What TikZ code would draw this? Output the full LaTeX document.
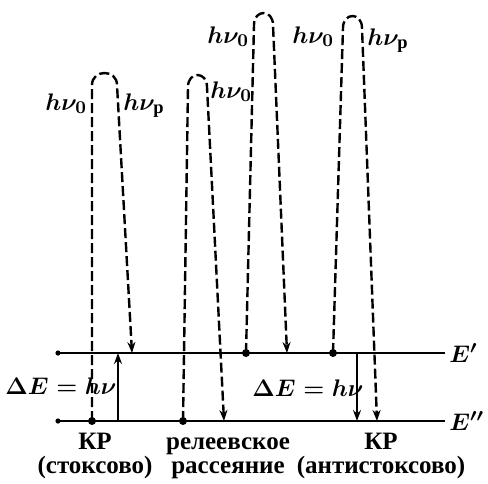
\documentclass[tikz,border=0pt]{standalone}
\usepackage{amsmath}
\usepackage{fontspec}
\setmainfont{Liberation Serif}
\usetikzlibrary{arrows.meta}
\begin{document}
\begin{tikzpicture}[x=0.5pt,y=-0.5pt,
  level/.style={line width=1.4pt},
  leg/.style={line width=1.2pt, dash pattern=on 5pt off 2pt, -{Stealth[length=5.5pt,width=4pt]}},
  solidarrow/.style={line width=1.1pt, -{Stealth[length=5.5pt,width=4pt]}},
  bigdot/.style={circle, fill, inner sep=0pt, minimum size=4pt},
  enddot/.style={circle, fill, inner sep=0pt, minimum size=2.6pt},
  lab/.style={inner sep=0pt, anchor=base west, font=\fontsize{13.2}{16}\selectfont\boldmath},
  txt/.style={inner sep=0pt, anchor=base, font=\fontsize{12.5}{14}\selectfont\bfseries}]
\useasboundingbox (0,0) rectangle (488,483);
% levels
\node[enddot] (u0) at (58,353) {};
\coordinate (u1) at (445,353);
\node[enddot] (l0) at (58,421) {};
\coordinate (l1) at (445,421);
\draw[level] (u0.center) -- (u1);
\draw[level] (l0.center) -- (l1);
\node[lab, anchor=west] (Eu) at (449,353) {$E'$};
\node[lab, anchor=west] (El) at (449,421) {$E''$};
% dots
\node[bigdot] (s1) at (92,421) {};
\node[bigdot] (s2) at (183,421) {};
\node[bigdot] (s3) at (246,353) {};
\node[bigdot] (s4) at (333,353) {};
\coordinate (e1) at (132,353);
\coordinate (e2) at (224,421);
\coordinate (e3) at (287,353);
\coordinate (e4) at (377,421);
% loops
\draw[leg] (s1.center) -- (92,85) .. controls (92,69) and (117,69) .. (117,85) -- (e1);
\draw[leg] (s2.center) -- (188,87) .. controls (188,71) and (207,71) .. (207,87) -- (e2);
\draw[leg] (s3.center) -- (254,25) .. controls (254,9) and (273,9) .. (273,25) -- (e3);
\draw[leg] (s4.center) -- (343,28) .. controls (343,12) and (362,12) .. (362,28) -- (e4);
% energy arrows
\coordinate (a1) at (118,421);
\coordinate (a2) at (118,353);
\draw[solidarrow] (a1) -- (a2);
\coordinate (b1) at (357,353);
\coordinate (b2) at (357,421);
\draw[solidarrow] (b1) -- (b2);
% labels
\node[lab] (h1) at (45,110) {$h\nu_0$};
\node[lab] (h2) at (123,110) {$h\nu_{\textbf{р}}$};
\node[lab] (h3) at (210,98) {$h\nu_0$};
\node[lab] (h4) at (207,43) {$h\nu_0$};
\node[lab] (h5) at (292,43) {$h\nu_0$};
\node[lab] (h6) at (367,45) {$h\nu_{\textbf{р}}$};
\node[lab] (d1) at (5,394) {$\Delta E=h\nu$};
\node[lab] (d2) at (252,396) {$\Delta E=h\nu$};
% captions
\node[txt] (c1) at (95,449) {КР};
\node[txt] (c2) at (95,473) {(стоксово)};
\node[txt] (c3) at (228,449) {релеевское};
\node[txt] (c4) at (228,473) {рассеяние};
\node[txt] (c5) at (381,449) {КР};
\node[txt] (c6) at (381,473) {(антистоксово)};
\end{tikzpicture}
\end{document}
